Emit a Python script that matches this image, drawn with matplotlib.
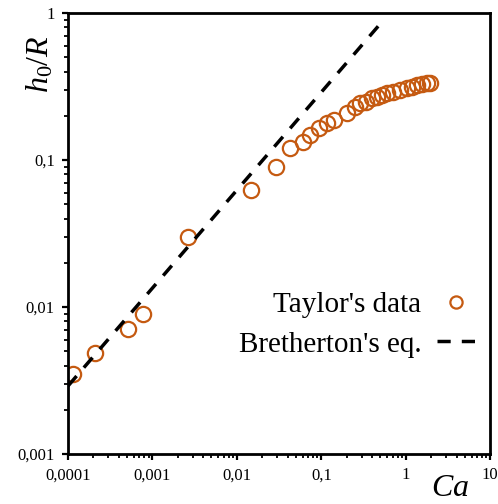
import matplotlib
matplotlib.use('Agg')
import matplotlib.pyplot as plt
from matplotlib.ticker import LogLocator, FuncFormatter, NullFormatter

plt.rcParams['font.family'] = ['Liberation Serif', 'DejaVu Serif']
plt.rcParams['mathtext.fontset'] = 'custom'
plt.rcParams['mathtext.rm'] = 'Liberation Serif'
plt.rcParams['mathtext.it'] = 'Liberation Serif:italic'

# Taylor's data (Ca, h0/R)
taylor_ca = [1.15e-4, 2.1e-4, 5.1e-4, 7.7e-4, 0.00264, 0.0147, 0.0291, 0.0426,
             0.0604, 0.0736, 0.0942, 0.116, 0.142, 0.200, 0.251, 0.288, 0.340,
             0.396, 0.455, 0.521, 0.597, 0.710, 0.859, 1.03, 1.18, 1.35, 1.55,
             1.78, 1.95]
taylor_h = [0.0035, 0.00486, 0.0071, 0.0090, 0.030, 0.0625, 0.090, 0.120,
            0.133, 0.148, 0.165, 0.179, 0.187, 0.209, 0.231, 0.244, 0.249,
            0.264, 0.270, 0.277, 0.284, 0.292, 0.299, 0.308, 0.316, 0.324,
            0.329, 0.333, 0.336]

# Bretherton's eq. line end points
breth_ca = [1e-4, 0.53]
breth_h = [0.0029, 0.88]

x_ticks = [1e-4, 1e-3, 1e-2, 1e-1, 1, 10]
y_ticks = [1e-3, 1e-2, 1e-1, 1]

ORANGE = '#C55A11'


def comma_fmt(v, pos):
    s = ('%.4f' % v).rstrip('0').rstrip('.')
    return s.replace('.', ',')


fig = plt.figure(figsize=(4.98, 5.04), dpi=100)
ax = fig.add_axes([0.1365, 0.0992, 0.848, 0.875])

ax.plot(taylor_ca, taylor_h, linestyle='none', marker='o', markersize=11,
        markerfacecolor='none', markeredgecolor=ORANGE, markeredgewidth=1.6,
        label="Taylor's data")
ax.plot(breth_ca, breth_h, color='black', linewidth=2.5, dashes=(3.8, 3.2),
        label="Bretherton's eq.")

ax.set_xscale('log')
ax.set_yscale('log')
ax.xaxis.set_minor_locator(LogLocator(base=10, subs=range(2, 10)))
ax.yaxis.set_minor_locator(LogLocator(base=10, subs=range(2, 10)))
ax.set_xticks(x_ticks)
ax.set_yticks(y_ticks)
ax.xaxis.set_major_formatter(FuncFormatter(comma_fmt))
ax.yaxis.set_major_formatter(FuncFormatter(comma_fmt))
ax.xaxis.set_minor_formatter(NullFormatter())
ax.yaxis.set_minor_formatter(NullFormatter())
ax.set_xlim(1e-4, 10)
ax.set_ylim(1e-3, 1)

ax.tick_params(which='major', direction='out', length=4.5, width=1.6,
               labelsize=12, pad=5)
ax.tick_params(which='minor', direction='out', length=3, width=1.3)
for sp in ax.spines.values():
    sp.set_linewidth(2)

ax.set_xlabel('$Ca$', fontsize=23)
ax.xaxis.set_label_coords(0.905, -0.045)
ax.set_ylabel('$h_0/R$', fontsize=23)
ax.yaxis.set_label_coords(-0.03, 0.885)

ax.legend(loc='upper right', bbox_to_anchor=(0.9645, 0.368), frameon=False,
          markerfirst=False, fontsize=21, handlelength=1.3, markerscale=0.8,
          labelspacing=0.45, handletextpad=0.55, borderaxespad=0, borderpad=0)

fig.savefig('out.png', dpi=100)
